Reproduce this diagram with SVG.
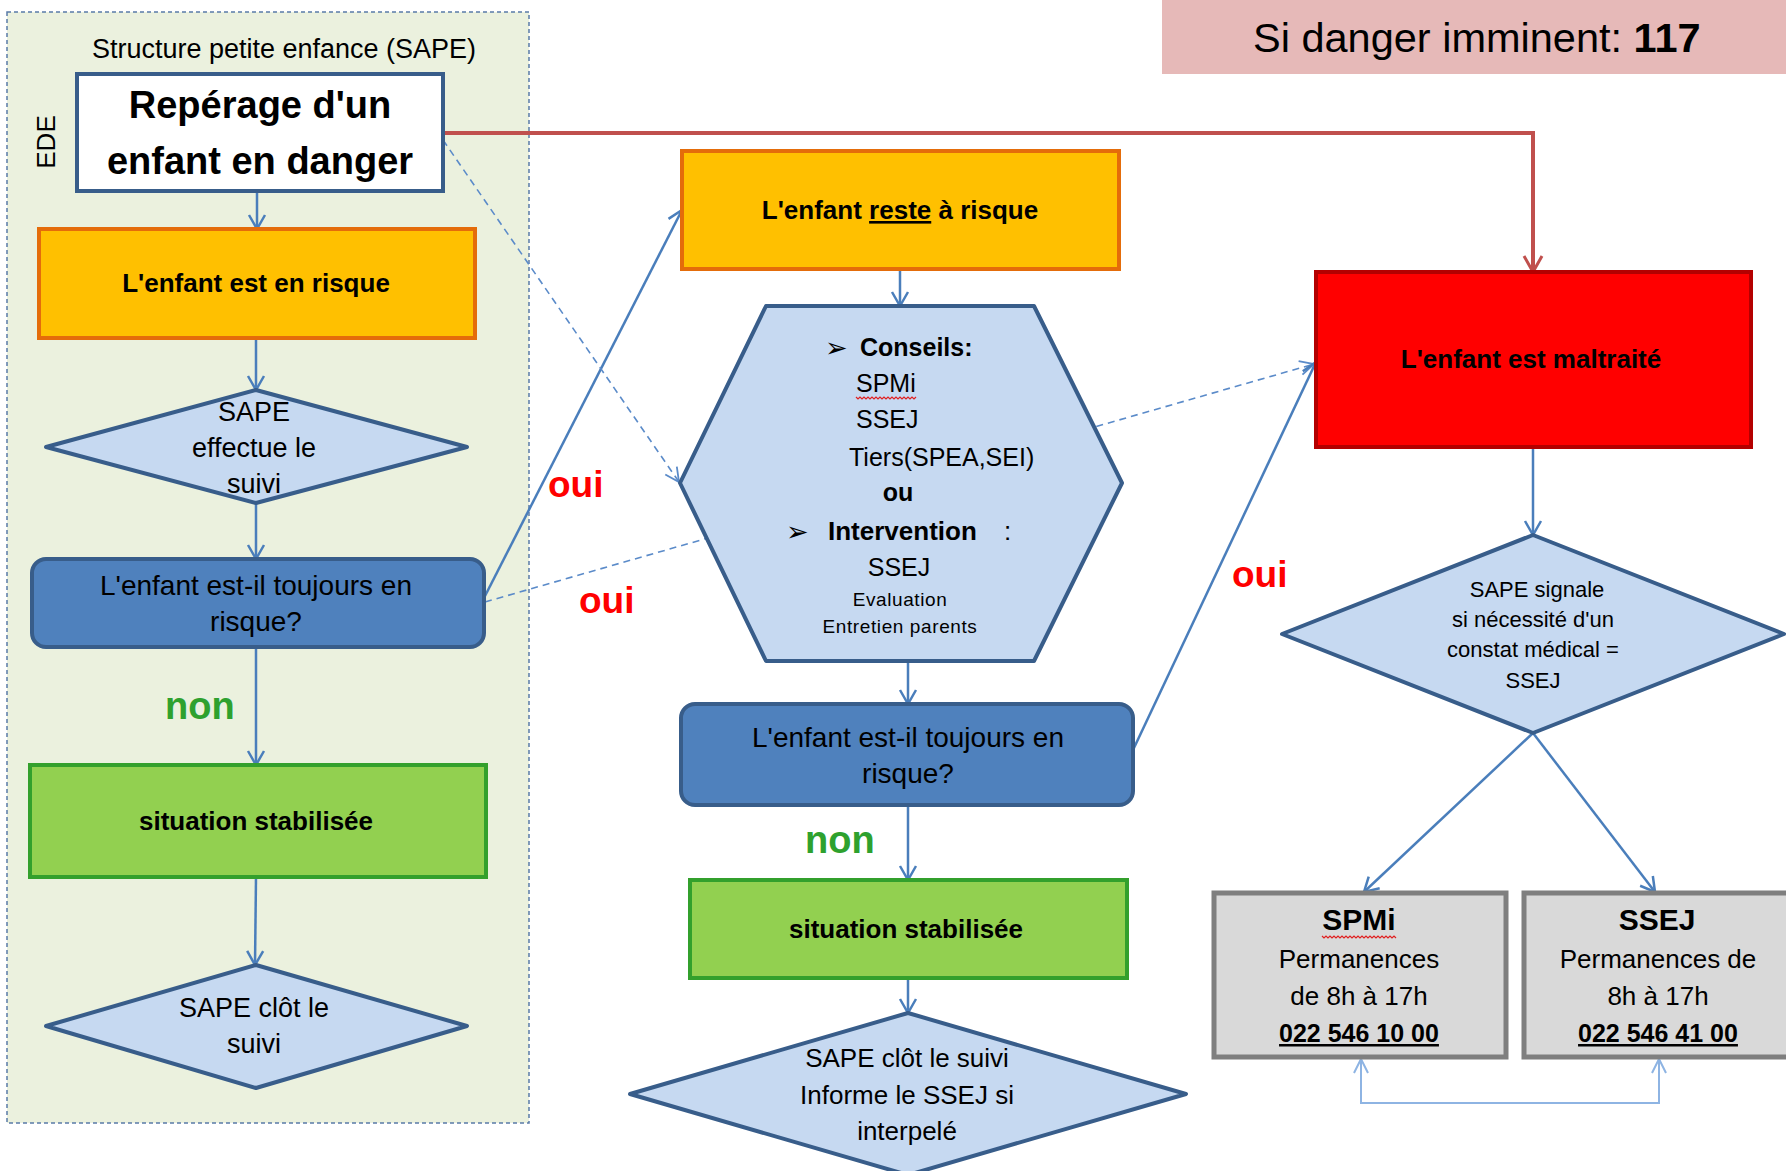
<svg xmlns="http://www.w3.org/2000/svg" width="1786" height="1171" viewBox="0 0 1786 1171">
<defs>
<style>
.t{font-family:"Liberation Sans",Arial,sans-serif;fill:#000}
.b{font-weight:bold}
.c{text-anchor:middle}
.conn{stroke:#4a7ebb;stroke-width:2.5;fill:none;marker-end:url(#ah)}
.dash{stroke:#5b8bc9;stroke-width:1.6;stroke-dasharray:7 5;fill:none;marker-end:url(#ahd)}
.dia{fill:#c6d9f1;stroke:#385d8a;stroke-width:4;stroke-linejoin:round}
.orng{fill:#ffc000;stroke:#e46c0a;stroke-width:4}
.grn{fill:#92d050;stroke:#33a02c;stroke-width:4}
.qst{fill:#4f81bd;stroke:#385d8a;stroke-width:4}
.gray{fill:#d9d9d9;stroke:#7f7f7f;stroke-width:5}
.oui{font-family:"Liberation Sans",Arial,sans-serif;font-weight:bold;font-size:37px;fill:#ff0000}
.non{font-family:"Liberation Sans",Arial,sans-serif;font-weight:bold;font-size:38px;fill:#2ea12e}
.wave{fill:none;stroke:#e02020;stroke-width:1.2}
.arr{font-family:"DejaVu Sans",sans-serif;font-size:27px;fill:#000}
</style>
<marker id="ah" viewBox="0 0 20 20" refX="17" refY="10" markerWidth="20" markerHeight="20" markerUnits="userSpaceOnUse" orient="auto-start-reverse">
<path d="M3,2 L17,10 L3,18" fill="none" stroke="#4a7ebb" stroke-width="2.5"/>
</marker>
<marker id="ahd" viewBox="0 0 20 20" refX="17" refY="10" markerWidth="20" markerHeight="20" markerUnits="userSpaceOnUse" orient="auto">
<path d="M3,3 L17,10 L3,17" fill="none" stroke="#5b8bc9" stroke-width="1.8"/>
</marker>
<marker id="ahr" viewBox="0 0 22 22" refX="19" refY="11" markerWidth="22" markerHeight="22" markerUnits="userSpaceOnUse" orient="auto">
<path d="M3,2 L19,11 L3,20" fill="none" stroke="#c0504d" stroke-width="3"/>
</marker>
<marker id="ahl" viewBox="0 0 20 20" refX="17" refY="10" markerWidth="20" markerHeight="20" markerUnits="userSpaceOnUse" orient="auto-start-reverse">
<path d="M3,3 L17,10 L3,17" fill="none" stroke="#8eb4e3" stroke-width="2"/>
</marker>
</defs>

<rect width="1786" height="1171" fill="#ffffff"/>

<g id="container">
<rect x="7" y="12" width="522" height="1111" fill="#ebf1de" stroke="#5a7ba8" stroke-width="1.5" stroke-dasharray="4 3"/>
<text class="t c" x="284" y="58" font-size="27">Structure petite enfance (SAPE)</text>
<text class="t c" transform="translate(55,142) rotate(-90)" font-size="26">EDE</text>
</g>

<g id="danger-banner">
<rect x="1162" y="0" width="630" height="74" fill="#e6b9b8"/>
<text class="t" x="1253" y="52" font-size="41.5">Si danger imminent: <tspan class="b">117</tspan></text>
</g>

<g id="connectors">
<line class="conn" x1="257" y1="191" x2="257" y2="229"/>
<line class="conn" x1="256" y1="338" x2="256" y2="390"/>
<line class="conn" x1="256" y1="503" x2="256" y2="559"/>
<line class="conn" x1="256" y1="647" x2="256" y2="765"/>
<line class="conn" x1="256" y1="877" x2="255" y2="965"/>
<line class="conn" x1="485" y1="596" x2="682" y2="210"/>
<line class="dash" x1="485" y1="602" x2="1314" y2="364"/>
<line class="dash" x1="443" y1="140" x2="679" y2="482"/>
<polyline points="443,133 1533,133 1533,272" fill="none" stroke="#c0504d" stroke-width="4" marker-end="url(#ahr)"/>
<line class="conn" x1="900" y1="269" x2="900" y2="306"/>
<line class="conn" x1="908" y1="661" x2="908" y2="704"/>
<line class="conn" x1="908" y1="805" x2="908" y2="880"/>
<line class="conn" x1="908" y1="978" x2="908" y2="1013"/>
<line class="conn" x1="1133" y1="750" x2="1316" y2="362"/>
<line class="conn" x1="1533" y1="447" x2="1533" y2="535"/>
<line class="conn" x1="1533" y1="733" x2="1364" y2="892"/>
<line class="conn" x1="1533" y1="733" x2="1655" y2="892"/>
<polyline points="1361,1059 1361,1103 1659,1103 1659,1059" fill="none" stroke="#8eb4e3" stroke-width="2" marker-start="url(#ahl)" marker-end="url(#ahl)"/>
</g>

<g id="labels">
<text class="oui" x="548" y="497">oui</text>
<text class="oui" x="579" y="613">oui</text>
<text class="oui" x="1232" y="587">oui</text>
<text class="non" x="165" y="719">non</text>
<text class="non" x="805" y="853">non</text>
</g>

<g id="reperage">
<rect x="77" y="74" width="366" height="117" fill="#ffffff" stroke="#385d8a" stroke-width="4"/>
<text class="t b c" x="260" y="118" font-size="38">Repérage d'un</text>
<text class="t b c" x="260" y="174" font-size="38">enfant en danger</text>
</g>

<g id="risque">
<rect class="orng" x="39" y="229" width="436" height="109"/>
<text class="t b c" x="256" y="292" font-size="26">L'enfant est en risque</text>
</g>

<g id="suivi">
<polygon class="dia" points="256,390 467,447 256,503 46,447"/>
<text class="t c" x="254" y="421" font-size="27">SAPE</text>
<text class="t c" x="254" y="457" font-size="27">effectue le</text>
<text class="t c" x="254" y="493" font-size="27">suivi</text>
</g>

<g id="question1">
<rect class="qst" x="32" y="559" width="452" height="88" rx="14"/>
<text class="t c" x="256" y="595" font-size="28">L'enfant est-il toujours en</text>
<text class="t c" x="256" y="631" font-size="28">risque?</text>
</g>

<g id="stable1">
<rect class="grn" x="30" y="765" width="456" height="112"/>
<text class="t b c" x="256" y="830" font-size="26">situation stabilisée</text>
</g>

<g id="clot1">
<polygon class="dia" points="256,965 467,1026 256,1088 46,1026"/>
<text class="t c" x="254" y="1017" font-size="27">SAPE clôt le</text>
<text class="t c" x="254" y="1053" font-size="27">suivi</text>
</g>

<g id="reste">
<rect class="orng" x="682" y="151" width="437" height="118"/>
<text class="t b c" x="900" y="219" font-size="26">L'enfant <tspan text-decoration="underline">reste</tspan> à risque</text>
</g>

<g id="conseils">
<polygon class="dia" points="766,306 1034,306 1122,483 1034,661 766,661 680,483"/>
<text class="arr" x="825" y="357">➢</text>
<text class="t b" x="860" y="356" font-size="25">Conseils:</text>
<text class="t" x="856" y="392" font-size="25">SPMi</text>
<polyline class="wave" points="856,397 858,399 860,397 862,399 864,397 866,399 868,397 870,399 872,397 874,399 876,397 878,399 880,397 882,399 884,397 886,399 888,397 890,399 892,397 894,399 896,397 898,399 900,397 902,399 904,397 906,399 908,397 910,399 912,397 914,399 916,397"/>
<text class="t" x="856" y="428" font-size="25">SSEJ</text>
<text class="t" x="849" y="466" font-size="25">Tiers(SPEA,SEI)</text>
<text class="t b c" x="898" y="501" font-size="25">ou</text>
<text class="arr" x="786" y="541">➢</text>
<text class="t b" x="828" y="540" font-size="26">Intervention</text>
<text class="t" x="1004" y="540" font-size="26">:</text>
<text class="t c" x="899" y="576" font-size="25">SSEJ</text>
<text class="t c" x="900" y="606" font-size="19" letter-spacing="0.6">Evaluation</text>
<text class="t c" x="900" y="633" font-size="19" letter-spacing="0.6">Entretien parents</text>
</g>

<g id="question2">
<rect class="qst" x="681" y="704" width="452" height="101" rx="14"/>
<text class="t c" x="908" y="747" font-size="28">L'enfant est-il toujours en</text>
<text class="t c" x="908" y="783" font-size="28">risque?</text>
</g>

<g id="stable2">
<rect class="grn" x="690" y="880" width="437" height="98"/>
<text class="t b c" x="906" y="938" font-size="26">situation stabilisée</text>
</g>

<g id="clot2">
<polygon class="dia" points="908,1013 1186,1094 908,1175 630,1094"/>
<text class="t c" x="907" y="1067" font-size="26">SAPE clôt le suivi</text>
<text class="t c" x="907" y="1104" font-size="26">Informe le SSEJ si</text>
<text class="t c" x="907" y="1140" font-size="26">interpelé</text>
</g>

<g id="maltraite">
<rect x="1316" y="272" width="435" height="175" fill="#ff0000" stroke="#b40000" stroke-width="4"/>
<text class="t b c" x="1531" y="368" font-size="26">L'enfant est maltraité</text>
</g>

<g id="signale">
<polygon class="dia" points="1533,535 1784,634 1533,733 1282,634"/>
<text class="t c" x="1537" y="597" font-size="22">SAPE signale</text>
<text class="t c" x="1533" y="627" font-size="22">si nécessité d'un</text>
<text class="t c" x="1533" y="657" font-size="22">constat médical =</text>
<text class="t c" x="1533" y="688" font-size="22">SSEJ</text>
</g>

<g id="spmi">
<rect class="gray" x="1214" y="893" width="292" height="164"/>
<text class="t b c" x="1359" y="930" font-size="30">SPMi</text>
<polyline class="wave" points="1322,936 1324,938 1326,936 1328,938 1330,936 1332,938 1334,936 1336,938 1338,936 1340,938 1342,936 1344,938 1346,936 1348,938 1350,936 1352,938 1354,936 1356,938 1358,936 1360,938 1362,936 1364,938 1366,936 1368,938 1370,936 1372,938 1374,936 1376,938 1378,936 1380,938 1382,936 1384,938 1386,936 1388,938 1390,936 1392,938 1394,936 1396,938"/>
<text class="t c" x="1359" y="968" font-size="26">Permanences</text>
<text class="t c" x="1359" y="1005" font-size="26">de 8h à 17h</text>
<text class="t b c" x="1359" y="1042" font-size="25" text-decoration="underline">022 546 10 00</text>
</g>

<g id="ssej">
<rect class="gray" x="1524" y="893" width="270" height="164"/>
<text class="t b c" x="1657" y="930" font-size="30">SSEJ</text>
<text class="t c" x="1658" y="968" font-size="26">Permanences de</text>
<text class="t c" x="1658" y="1005" font-size="26">8h à 17h</text>
<text class="t b c" x="1658" y="1042" font-size="25" text-decoration="underline">022 546 41 00</text>
</g>
</svg>
